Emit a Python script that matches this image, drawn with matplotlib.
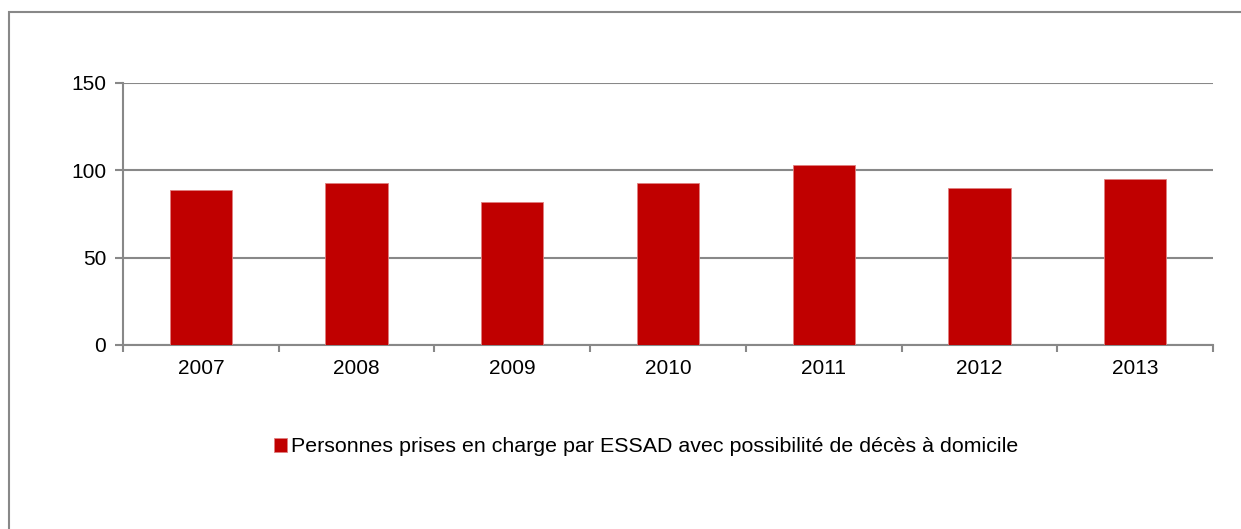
import matplotlib.pyplot as plt
import matplotlib.patches as mpatches
import numpy as np

plt.rcParams['font.family'] = ['Liberation Sans', 'DejaVu Sans']

## Data
annees = ["2007", "2008", "2009", "2010", "2011", "2012", "2013"]
personnes = [89, 93, 82, 93, 103, 90, 95]
serie = "Personnes prises en charge par ESSAD avec possibilité de décès à domicile"

rouge = "#C00000"
gris = "#888888"

fig = plt.figure(figsize=(12.41, 5.29), dpi=100)
ax = fig.add_axes([123/1241, 1 - 345/529, 1090/1241, 262/529])

x = np.arange(len(annees))
ax.bar(x, personnes, width=0.4, color=rouge, edgecolor="#E08080", linewidth=0.6,
       label=serie, zorder=3)

ax.set_xlim(-0.5, len(annees) - 0.5)
ax.set_ylim(0, 150)
ax.set_yticks([0, 50, 100, 150])
ax.yaxis.grid(True, color=gris, linewidth=1.5, zorder=0)

ax.set_xticks(x)
ax.set_xticklabels(annees)
ax.set_xticks(np.arange(-0.5, len(annees)), minor=True)
ax.tick_params(axis="x", which="major", length=0, pad=10, labelsize=15)
ax.tick_params(axis="x", which="minor", length=5, width=1.5, color=gris)
ax.tick_params(axis="y", length=6, width=1.5, color=gris, pad=6, labelsize=15)

for s in ["top", "right"]:
    ax.spines[s].set_visible(False)
for s in ["left", "bottom"]:
    ax.spines[s].set_color(gris)
    ax.spines[s].set_linewidth(1.5)

# legende
fig.legend(loc="center", bbox_to_anchor=(646/1241, 1 - 447/529), frameon=False,
           fontsize=15.4, handlelength=0.6, handleheight=0.6, handletextpad=0.2)

# cadre exterieur
cadre = mpatches.Rectangle((9/1241, -0.1), 1.2, 1 - 12/529 + 0.1, transform=fig.transFigure,
                           fill=False, edgecolor=gris, linewidth=1.5)
fig.patches.append(cadre)

plt.savefig("out.png")
